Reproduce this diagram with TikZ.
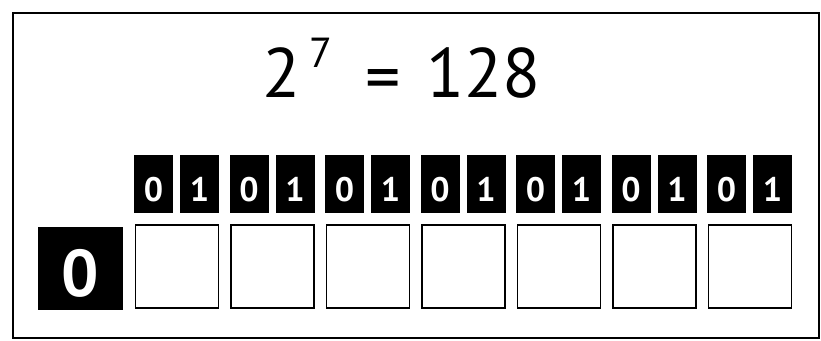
\documentclass[tikz,border=0pt]{standalone}
\usepackage{fontspec}
\setmainfont{PT Sans}
\begin{document}
\begin{tikzpicture}[x=1pt,y=-1pt,
  bitbox/.style={fill=black,draw=none,minimum width=39pt,minimum height=58pt,inner sep=0pt,
    text=white,font=\fontsize{34}{40}\selectfont\bfseries,text height=34pt,text depth=0pt},
  cell/.style={draw=black,line width=1.8pt,fill=white,minimum width=83pt,minimum height=83pt,inner sep=0pt},
  bigbit/.style={fill=black,draw=none,minimum width=85pt,minimum height=83pt,inner sep=0pt,
    text=white,font=\fontsize{66}{78}\selectfont\bfseries,text height=55pt,text depth=0pt},
  title/.style={inner sep=0pt,anchor=base,font=\fontsize{70}{84}\selectfont}]
\useasboundingbox (0,0) rectangle (821,340);
\fill[white] (0,0) rectangle (821,340);
\draw[line width=2pt] (13,13) rectangle (819,338);
% title
\node[title] (two) at (281.5,97) {2};
\node[inner sep=0pt,anchor=base,font=\fontsize{42}{50}\selectfont] (seven) at (321,67) {7};
\node[title] (eq) at (383,101) {=};
\node[title] (num) at (483.5,97) {128};
% big zero
\node[bigbit] (b0) at (80.5,268.5) {0};
% cells and bit pairs
\foreach \i in {1,...,7}{
  \pgfmathsetmacro{\L}{135+95.5*(\i-1)}
  \node[cell] (c\i) at (\L+42,266.5) {};
  \node[bitbox] (z\i) at (\L+18.5,184) {0};
  \node[bitbox] (o\i) at (\L+64.5,184) {1};
}
\end{tikzpicture}
\end{document}
